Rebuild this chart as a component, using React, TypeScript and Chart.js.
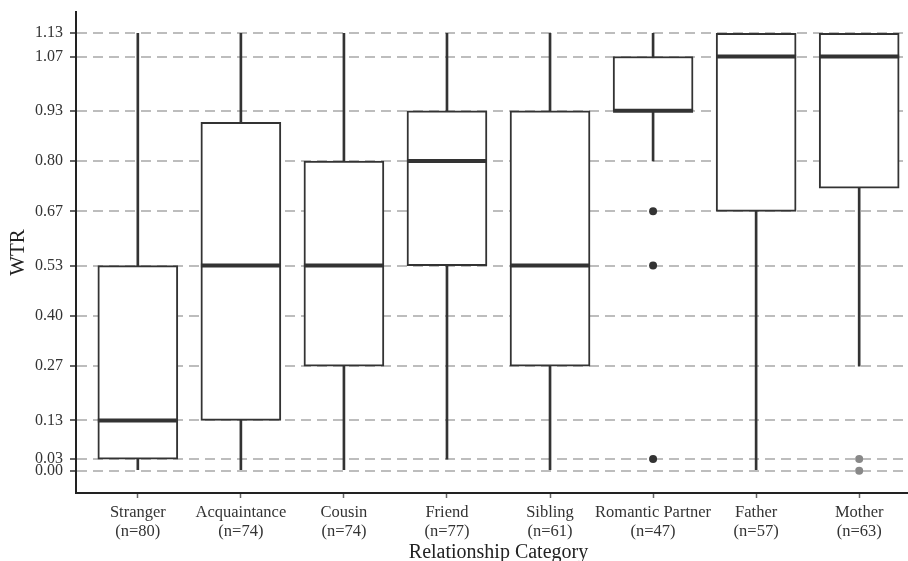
import { useEffect, useRef } from "react";
import { Chart, registerables } from "chart.js";

Chart.register(...registerables);

const categories = ["Stranger", "Acquaintance", "Cousin", "Friend", "Sibling", "Romantic Partner", "Father", "Mother"];
const sampleSizes = [80, 74, 74, 77, 61, 47, 57, 63];
const whiskerLow = [0.0, 0.0, 0.0, 0.03, 0.0, 0.8, 0.0, 0.27];
const q1 = [0.03, 0.13, 0.27, 0.53, 0.27, 0.93, 0.67, 0.73];
const median = [0.13, 0.53, 0.53, 0.8, 0.53, 0.93, 1.07, 1.07];
const q3 = [0.53, 0.9, 0.8, 0.93, 0.93, 1.07, 1.13, 1.13];
const whiskerHigh = [1.13, 1.13, 1.13, 1.13, 1.13, 1.13, 1.13, 1.13];
const outliers: number[][] = [[], [], [], [], [], [0.67, 0.53, 0.03], [], [0.03, 0.0]];
const yTicks = [0, 0.03, 0.13, 0.27, 0.4, 0.53, 0.67, 0.8, 0.93, 1.07, 1.13];

const outlierColors = ["#333", "#333", "#333", "#333", "#333", "#333", "#333", "#888"];
const FONT = "'Liberation Serif', 'DejaVu Serif', serif";

const medianPlugin = {
  id: "medians",
  afterDatasetsDraw(chart: any) {
    const { ctx, scales } = chart;
    const y = scales.y;
    const meta = chart.getDatasetMeta(1);
    ctx.save();
    ctx.beginPath();
    ctx.rect(chart.chartArea.left, chart.chartArea.top, chart.chartArea.right - chart.chartArea.left, chart.chartArea.bottom - chart.chartArea.top);
    ctx.clip();
    ctx.strokeStyle = "#333";
    ctx.lineWidth = 4;
    meta.data.forEach((bar: any, i: number) => {
      const { x, width } = bar.getProps(["x", "width"], true);
      const py = y.getPixelForValue(median[i]);
      ctx.beginPath();
      ctx.moveTo(x - width / 2, py);
      ctx.lineTo(x + width / 2, py);
      ctx.stroke();
    });
    ctx.restore();
  },
};

export default function App() {
  const ref = useRef<HTMLCanvasElement | null>(null);

  useEffect(() => {
    document.body.style.overflow = "hidden";
    const outlierData: { x: number; y: number }[] = [];
    const outlierPointColors: string[] = [];
    outliers.forEach((vals, i) => {
      vals.forEach((v) => {
        outlierData.push({ x: i, y: v });
        outlierPointColors.push(outlierColors[i]);
      });
    });

    const chart = new Chart(ref.current as HTMLCanvasElement, {
      type: "bar",
      data: {
        datasets: [
          {
            type: "bar",
            label: "whiskers",
            data: categories.map((_, i) => ({ x: i, y: [whiskerLow[i], whiskerHigh[i]] })) as any,
            backgroundColor: "#333",
            borderWidth: 0,
            barThickness: 2,
            grouped: false,
            order: 3,
          } as any,
          {
            type: "bar",
            label: "boxes",
            data: categories.map((_, i) => ({ x: i, y: [q1[i], q3[i]] })) as any,
            backgroundColor: "#ffffff",
            borderColor: "#333",
            borderWidth: 2,
            borderSkipped: false,
            barThickness: 80,
            grouped: false,
            order: 2,
          } as any,
          {
            type: "scatter",
            label: "outliers",
            data: outlierData,
            pointRadius: 4,
            pointBackgroundColor: outlierPointColors,
            pointBorderWidth: 0,
            order: 1,
          } as any,
        ],
      },
      options: {
        responsive: false,
        animation: false,
        devicePixelRatio: 1,
        layout: { padding: { top: 12, right: 0, left: 0, bottom: 0 } },
        plugins: { legend: { display: false }, tooltip: { enabled: false } },
        scales: {
          x: {
            type: "linear",
            offset: false,
            min: -0.6,
            max: 7.6,
            afterBuildTicks: (scale: any) => {
              scale.ticks = categories.map((_, i) => ({ value: i }));
            },
            afterFit: (scale: any) => {
              scale.height = 68;
              scale.paddingLeft = 0;
              scale.paddingRight = 0;
            },
            ticks: {
              autoSkip: false,
              maxRotation: 0,
              padding: 5,
              color: "#333",
              font: { family: FONT, size: 16.5, lineHeight: 1.15 },
              callback: (v: any) => [categories[v], `(n=${sampleSizes[v]})`],
            },
            grid: {
              offset: false,
              drawOnChartArea: false,
              drawTicks: true,
              tickLength: 5,
              tickColor: "#666",
              tickWidth: 1.5,
            },
            border: { color: "#222", width: 2 },
            title: {
              display: true,
              text: "Relationship Category",
              color: "#222",
              font: { family: FONT, size: 20 },
              padding: { top: 0, bottom: -4 },
            },
          } as any,
          y: {
            type: "linear",
            min: -0.0576,
            max: 1.185,
            afterBuildTicks: (scale: any) => {
              scale.ticks = yTicks.map((v) => ({ value: v }));
            },
            afterFit: (scale: any) => {
              scale.width = 76;
              scale.paddingTop = 0;
              scale.paddingBottom = 0;
            },
            ticks: {
              autoSkip: false,
              padding: 7,
              color: "#333",
              font: { family: FONT, size: 16 },
              callback: (v: any) => Number(v).toFixed(2),
            },
            grid: {
              color: "#bdbdbd",
              lineWidth: 2,
              tickColor: "#333",
              tickLength: 6,
              tickWidth: 1.5,
              tickBorderDash: [],
            },
            border: { color: "#222", width: 2, dash: [10, 6] },
            title: {
              display: true,
              text: "WTR",
              color: "#222",
              font: { family: FONT, size: 21 },
              padding: { top: 6, bottom: 0 },
            },
          } as any,
        },
      },
      plugins: [medianPlugin],
    });
    return () => chart.destroy();
  }, []);

  return (
    <div style={{ position: "fixed", left: 0, top: 0, width: 925, height: 561, background: "#fff" }}>
      <canvas ref={ref} width={925} height={561} />
    </div>
  );
}
